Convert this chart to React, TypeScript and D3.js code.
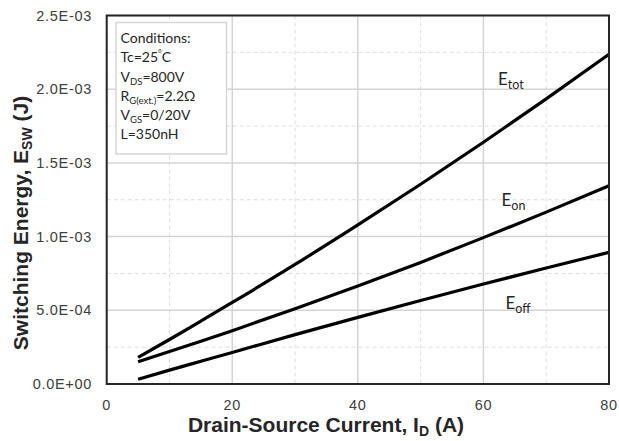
import React from "react";
import * as d3 from "d3";

const current = [5, 10, 15, 20, 30, 40, 50, 60, 70, 80];
const eTot = [0.181, 0.302, 0.427, 0.553, 0.811, 1.079, 1.355, 1.64, 1.934, 2.237];
const eOn = [0.151, 0.22, 0.29, 0.362, 0.511, 0.665, 0.825, 0.993, 1.166, 1.345];
const eOff = [0.032, 0.094, 0.154, 0.214, 0.335, 0.452, 0.566, 0.678, 0.787, 0.893];
const xTicks = [0, 20, 40, 60, 80];
const yTicks = [0, 0.5, 1.0, 1.5, 2.0, 2.5];
const yTickLabels = ["0.0E+00", "5.0E-04", "1.0E-03", "1.5E-03", "2.0E-03", "2.5E-03"];
const xMinor = [10, 30, 50, 70];
const yMinor = [0.25, 0.75, 1.25, 1.75, 2.25];

const W = 619, H = 441;
const L = 106.7, R = 609, T = 15.5, B = 384;

export default function App() {
  const x = d3.scaleLinear().domain([0, 80]).range([L, R]);
  const y = d3.scaleLinear().domain([0, 2.5]).range([B, T]);
  const line = d3.line<number>().x((_, i) => x(current[i])).y((d) => y(d)).curve(d3.curveMonotoneX);
  const series = [eTot, eOn, eOff];
  const sans = "'Liberation Sans', Arial, sans-serif";
  const cal = "Lato, 'Open Sans', sans-serif";
  const grid = "#d4d4d4";
  return (
    <svg width={W} height={H} style={{ position: "absolute", left: 0, top: 0, background: "#fff" }}>
      <rect x={0} y={0} width={W} height={H} fill="#fff" />
      {xMinor.map((v) => (
        <line key={"xm" + v} x1={x(v)} x2={x(v)} y1={T} y2={B} stroke="#dedede" strokeDasharray="4,3" strokeWidth={1} />
      ))}
      {yMinor.map((v) => (
        <line key={"ym" + v} x1={L} x2={R} y1={y(v)} y2={y(v)} stroke="#dedede" strokeDasharray="4,3" strokeWidth={1} />
      ))}
      {xTicks.map((v) => (
        <line key={"xg" + v} x1={x(v)} x2={x(v)} y1={T} y2={B} stroke={grid} strokeWidth={1.5} />
      ))}
      {yTicks.map((v) => (
        <line key={"yg" + v} x1={L} x2={R} y1={y(v)} y2={y(v)} stroke={grid} strokeWidth={1.5} />
      ))}
      {series.map((s, i) => (
        <path key={"s" + i} d={line(s) || ""} fill="none" stroke="#000" strokeWidth={3.2} />
      ))}
      <rect x={L} y={T} width={R - L} height={B - T} fill="none" stroke="#262626" strokeWidth={2} />
      {/* conditions box */}
      <rect x={116} y={22.5} width={110.5} height={131.5} fill="#fff" stroke="#d6d6d6" strokeWidth={1.5} />
      <g fontFamily={cal} fontSize={14} fill="#262626">
        <text x={120.5} y={42.7}>Conditions:</text>
        <text x={120.5} y={62.3}>Tc=25<tspan fontSize={9} dy={-5}>°</tspan><tspan dy={5}>C</tspan></text>
        <text x={120.5} y={81.6}>V<tspan fontSize={9.5} dy={3}>DS</tspan><tspan dy={-3}>=800V</tspan></text>
        <text x={120.5} y={100.5}>R<tspan fontSize={9.5} dy={3}>G(ext.)</tspan><tspan dy={-3}>=2.2Ω</tspan></text>
        <text x={120.5} y={120}>V<tspan fontSize={9.5} dy={3}>GS</tspan><tspan dy={-3}>=0/20V</tspan></text>
        <text x={120.5} y={139.3}>L=350nH</text>
      </g>
      {/* series labels */}
      <g fontFamily={cal} fontSize={17} fill="#262626">
        <text x={498} y={85}>E<tspan fontSize={12.5} dy={4}>tot</tspan></text>
        <text x={501.5} y={205.7}>E<tspan fontSize={12.5} dy={4}>on</tspan></text>
        <text x={505.5} y={308.5}>E<tspan fontSize={12.5} dy={4}>off</tspan></text>
      </g>
      {/* axis tick labels */}
      <g fontFamily={sans} fontSize={14.5} fill="#404040" letterSpacing={0.7}>
        {yTicks.map((v, i) => (
          <text key={"yl" + v} x={92} y={y(v)} dy="0.35em" textAnchor="end">{yTickLabels[i]}</text>
        ))}
        {xTicks.map((v) => (
          <text key={"xl" + v} x={x(v)} y={405} dy="0.35em" textAnchor="middle">{v}</text>
        ))}
      </g>
      {/* axis titles */}
      <text x={326} y={432} textAnchor="middle" fontFamily={sans} fontWeight="bold" fontSize={21} fill="#262626">
        Drain-Source Current, I<tspan fontSize={14} dy={4}>D</tspan><tspan dy={-4}> (A)</tspan>
      </text>
      <text transform="translate(27.5,223) rotate(-90)" textAnchor="middle" fontFamily={sans} fontWeight="bold" fontSize={21} fill="#262626">
        Switching Energy, E<tspan fontSize={14} dy={4}>SW</tspan><tspan dy={-4}> (J)</tspan>
      </text>
    </svg>
  );
}
